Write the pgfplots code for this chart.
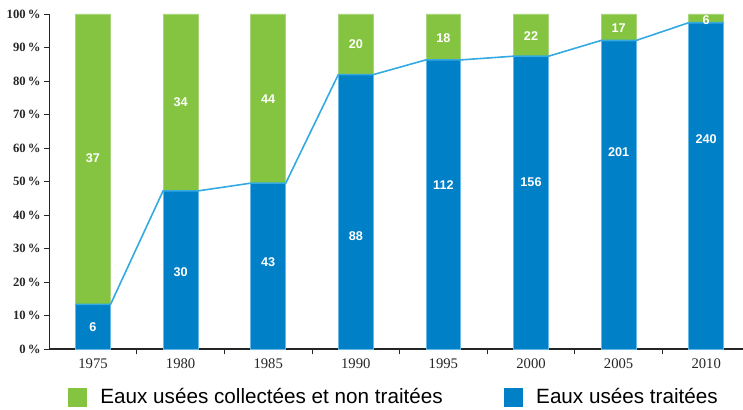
\documentclass[border=0pt]{standalone}
\usepackage{fontspec}
\setmainfont{Liberation Serif}
\newfontfamily\lsans{Liberation Sans}
\usepackage{pgfplots}
\usepackage{pgfplotstable}
\pgfplotsset{compat=1.18}
\definecolor{vert}{HTML}{85C441}
\definecolor{vertbord}{HTML}{A8D67C}
\definecolor{bleu}{HTML}{0080C6}
\definecolor{bleubord}{HTML}{66B8E6}
\definecolor{ligne}{HTML}{35A9E1}
\pgfplotstableread{
x top p lb lg nb ng
0 100 13.3 6.6 56.9 6 37
1 100 47.2 22.9 73.6 30 34
2 100 49.5 25.9 74.5 43 44
3 100 81.9 33.7 90.9 88 20
4 100 86.3 48.9 92.9 112 18
5 100 87.4 49.8 93.5 156 22
6 100 92.1 58.7 95.9 201 17
7 100 97.4 62.6 98.3 240 6
}\data
\begin{document}
\begin{tikzpicture}
\begin{axis}[
  scale only axis,
  width=520.35pt, height=251.25pt,
  xmin=-0.5, xmax=7.42,
  ymin=0, ymax=100,
  axis x line=bottom, axis y line=left,
  axis line style={-, line width=0.9pt, black!85},
  tick align=outside,
  major tick length=4pt,
  tick style={black!85, line width=0.6pt},
  ytick={0,10,...,100},
  yticklabels={0\,\%,10\,\%,20\,\%,30\,\%,40\,\%,50\,\%,60\,\%,70\,\%,80\,\%,90\,\%,100\,\%},
  yticklabel style={font=\fontsize{9.5}{11}\selectfont\bfseries, text=black!85, xshift=1pt},
  xtick={0.5,1.5,...,6.5},
  xticklabels={},
  extra x ticks={0,1,2,3,4,5,6,7},
  extra x tick labels={1975,1980,1985,1990,1995,2000,2005,2010},
  extra x tick style={tick style={draw=none}},
  xticklabel style={font=\fontsize{11}{13}\selectfont, text=black!85},
  clip=false,
  legend columns=2,
  legend style={draw=none, fill=none, inner sep=0pt,
    at={(0.0271,-0.1433)}, anchor=west,
    font=\lsans\fontsize{15.5}{18}\selectfont,
    column sep=10pt,
    nodes={inner sep=0pt},
    /tikz/every even column/.append style={column sep=46pt}},
]
\addplot[ybar, bar width=26pt, bar shift=0pt, fill=vert, draw=vertbord, line width=0.6pt,
  legend image code/.code={\fill[vert] (0pt,-6.75pt) rectangle (13.5pt,6.75pt);}]
  table[x=x, y=top] {\data};
\addlegendentry{Eaux usées collectées et non traitées}
\addplot[ybar, bar width=26pt, bar shift=0pt, fill=bleu, draw=bleubord, line width=0.6pt,
  legend image code/.code={\fill[bleu] (0pt,-6.75pt) rectangle (13.5pt,6.75pt);}]
  table[x=x, y=p] {\data};
\addlegendentry{Eaux usées traitées}
\addplot[ligne, line width=1.2pt, sharp plot, mark=none, forget plot] coordinates {
(-0.2,13.3)(0.2,13.3)(0.8,47.2)(1.2,47.2)(1.8,49.5)(2.2,49.5)(2.8,81.9)(3.2,81.9)
(3.8,86.3)(4.2,86.3)(4.8,87.4)(5.2,87.4)(5.8,92.1)(6.2,92.1)(6.8,97.4)(7.2,97.4)};
\addplot[only marks, mark=none, forget plot, nodes near coords, point meta=explicit symbolic,
  every node near coord/.style={anchor=center, text=white, font=\lsans\bfseries\fontsize{9.5}{11}\selectfont}]
  table[x=x, y=lb, meta=nb] {\data};
\addplot[only marks, mark=none, forget plot, nodes near coords, point meta=explicit symbolic,
  every node near coord/.style={anchor=center, text=white, font=\lsans\bfseries\fontsize{9.5}{11}\selectfont}]
  table[x=x, y=lg, meta=ng] {\data};
\end{axis}
\pgfresetboundingbox
\path (-36.9pt,-45.75pt) rectangle (520.35pt,261.75pt);
\end{tikzpicture}
\end{document}
